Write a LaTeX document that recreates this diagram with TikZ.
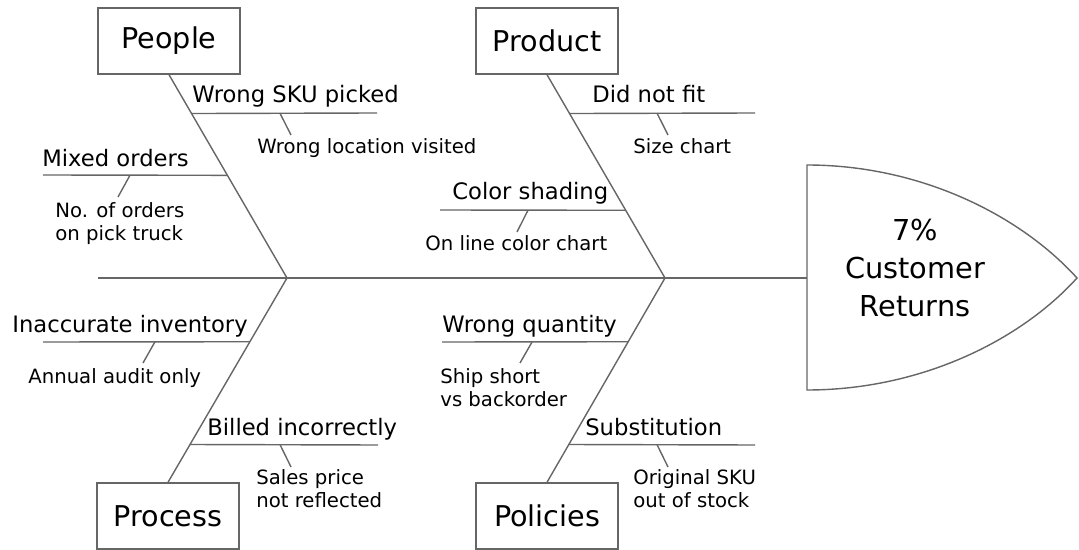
\documentclass[tikz,border=0pt]{standalone}
\usepackage{fontspec}
\setmainfont{DejaVu Sans}
\usepackage{tikz}

\begin{document}
\begin{tikzpicture}[x=0.02cm, y=-0.02cm,
    bone/.style={draw=black!60, line width=0.8pt},
    catbox/.style={rectangle, draw=black!60, line width=0.8pt, minimum width=2.84cm, minimum height=1.32cm, inner sep=0pt, font=\fontsize{16.3}{19}\selectfont},
    cause/.style={anchor=base west, inner sep=0pt, font=\fontsize{12.9}{15}\selectfont},
    detail/.style={anchor=north west, inner sep=0pt, align=left, font=\fontsize{11.2}{13.4}\selectfont}]
                \useasboundingbox (0,0) rectangle (1079,550);

                % Spine and head
                \coordinate (tail) at (98,278);
                \coordinate (hw) at (807,278);
                \coordinate (j1) at (287,278);
                \coordinate (j2) at (665,278);
                \coordinate (htop) at (807,165);
                \coordinate (hbot) at (807,390);
                \coordinate (tip) at (1077,278);
                \draw[bone] (htop) .. controls (920,165) and (1020,215) .. (tip)
                    .. controls (1020,341) and (920,390) .. (hbot) -- cycle;
                \node[align=center, font=\fontsize{16.4}{21.6}\selectfont] (effect) at (915,268) {7\%\\Customer\\Returns};
                \draw[bone] (tail) -- (hw);

                % Category boxes
                \node[catbox] (people) at (169,41) {People};
                \node[catbox] (product) at (547,41) {Product};
                \node[catbox] (process) at (168,516) {Process};
                \node[catbox] (policies) at (547,516) {Policies};

                % Main bones
                \draw[bone] (people.south) -- (j1) coordinate[pos=0.191] (a1) coordinate[pos=0.495] (a2);
                \draw[bone] (product.south) -- (j2) coordinate[pos=0.191] (b1) coordinate[pos=0.667] (b2);
                \draw[bone] (j1) -- (process.north) coordinate[pos=0.312] (c1) coordinate[pos=0.815] (c2);
                \draw[bone] (j2) -- (policies.north) coordinate[pos=0.312] (d1) coordinate[pos=0.815] (d2);

                % People
                \coordinate (a1e) at (377,113);
                \coordinate (a2e) at (43,175);
                \draw[bone] (a1) -- (a1e) coordinate[pos=0.477] (a1t);
                \draw[bone] (a2) -- (a2e) coordinate[pos=0.528] (a2t);
                \node[cause] (wsku) at (192,103) {Wrong SKU picked};
                \node[cause] (mixed) at (42,167) {Mixed orders};
                \node[detail] (wloc) at (257,138) {Wrong location visited};
                \node[detail] (norders) at (55,202) {No. of orders\\on pick truck};
                \coordinate (a1s) at (291,135);
                \coordinate (a2s) at (118,197);
                \draw[bone] (a1t) -- (a1s);
                \draw[bone] (a2t) -- (a2s);

                % Product
                \coordinate (b1e) at (755,113);
                \coordinate (b2e) at (440,210);
                \draw[bone] (b1) -- (b1e) coordinate[pos=0.472] (b1t);
                \draw[bone] (b2) -- (b2e) coordinate[pos=0.526] (b2t);
                \node[cause] (nofit) at (592,103) {Did not fit};
                \node[cause] (shade) at (452,200) {Color shading};
                \node[detail] (size) at (633,138) {Size chart};
                \node[detail] (chart) at (425,235) {On line color chart};
                \coordinate (b1s) at (668,135);
                \coordinate (b2s) at (517,232);
                \draw[bone] (b1t) -- (b1s);
                \draw[bone] (b2t) -- (b2s);

                % Process
                \coordinate (c1e) at (43,342);
                \coordinate (c2e) at (378,445);
                \draw[bone] (c1) -- (c1e) coordinate[pos=0.459] (c1t);
                \draw[bone] (c2) -- (c2e) coordinate[pos=0.479] (c2t);
                \node[cause] (inv) at (12,333) {Inaccurate inventory};
                \node[cause] (billed) at (207,436) {Billed incorrectly};
                \node[detail] (audit) at (28,368) {Annual audit only};
                \node[detail] (price) at (256,469) {Sales price\\not reflected};
                \coordinate (c1s) at (143,363);
                \coordinate (c2s) at (291,467);
                \draw[bone] (c1t) -- (c1s);
                \draw[bone] (c2t) -- (c2s);

                % Policies
                \coordinate (d1e) at (442,342);
                \coordinate (d2e) at (755,445);
                \draw[bone] (d1) -- (d1e) coordinate[pos=0.516] (d1t);
                \draw[bone] (d2) -- (d2e) coordinate[pos=0.474] (d2t);
                \node[cause] (qty) at (442,333) {Wrong quantity};
                \node[cause] (subst) at (585,436) {Substitution};
                \node[detail] (short) at (440,368) {Ship short\\vs backorder};
                \node[detail] (orig) at (633,469) {Original SKU\\out of stock};
                \coordinate (d1s) at (520,363);
                \coordinate (d2s) at (668,467);
                \draw[bone] (d1t) -- (d1s);
                \draw[bone] (d2t) -- (d2s);
\end{tikzpicture}
\end{document}
